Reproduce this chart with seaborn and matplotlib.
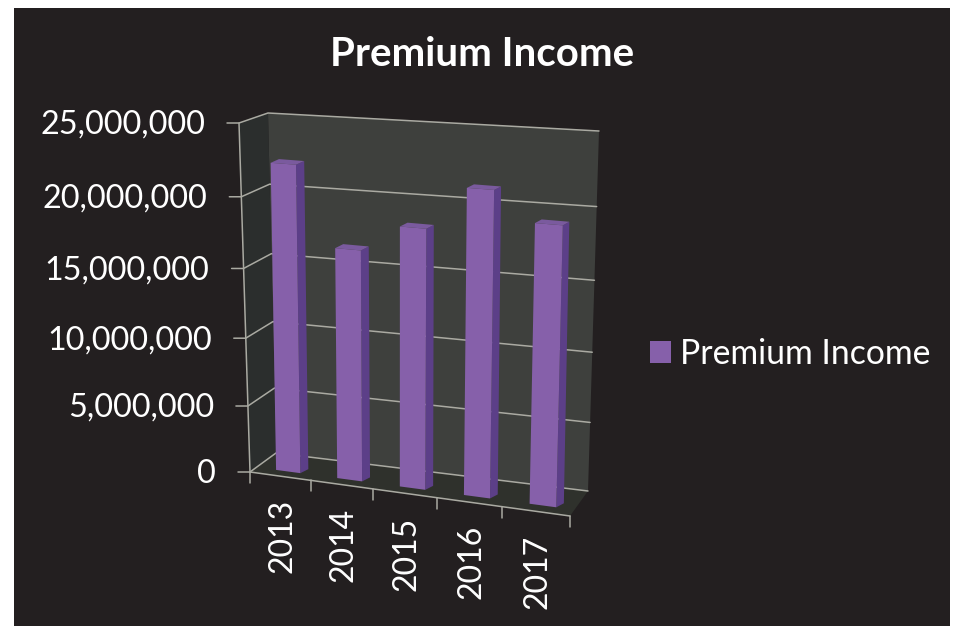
import numpy as np
import matplotlib
matplotlib.use('Agg')
import matplotlib.pyplot as plt
import seaborn as sns
from matplotlib.patches import Polygon, Rectangle
from matplotlib.transforms import Transform

# chart values
years = ['2013', '2014', '2015', '2016', '2017']
premium_income = [22300000, 16700000, 18600000, 21600000, 19600000]
y_ticks = [0, 5000000, 10000000, 15000000, 20000000, 25000000]
series_name = 'Premium Income'

BG = '#231f20'
WALL = '#3e403d'
SIDE_WALL = '#2b2e2d'
FLOOR = '#2f312c'
GRID = '#aaaaa2'
BAR = '#8660aa'
BAR_SIDE = '#5c3f88'
BAR_TOP = '#7a5a9e'
U0, U1 = -0.5, 4.5
V1 = y_ticks[-1]


class Persp(Transform):
    """maps (category, value) on to a plane given by its 4 pixel corners"""
    input_dims = 2
    output_dims = 2
    is_separable = False
    has_inverse = False

    def __init__(self, bl, br, tl, tr):
        super().__init__()
        src = [(U0, 0), (U1, 0), (U0, V1), (U1, V1)]
        a, b = [], []
        for (x, y), (px, py) in zip(src, [bl, br, tl, tr]):
            y = y / V1
            a.append([x, y, 1, 0, 0, 0, -px * x, -px * y])
            a.append([0, 0, 0, x, y, 1, -py * x, -py * y])
            b += [px, py]
        self.h = np.append(np.linalg.solve(np.array(a), np.array(b)), 1).reshape(3, 3)

    def transform_non_affine(self, values):
        values = np.asarray(values, dtype=float)
        pts = np.column_stack([values[:, 0], values[:, 1] / V1, np.ones(len(values))])
        out = pts @ self.h.T
        return out[:, :2] / out[:, 2:]


# pixel corners of the planes in the fake 3d box
back_wall = Persp((276, 453), (588, 491), (268, 113), (599, 131))
front_edge = Persp((250, 472), (570, 516), (239, 123), (583, 144))
bar_front = Persp((258, 467.5), (576.5, 510), (251, 122.5), (586, 145))
bar_back = Persp((266, 463.5), (584, 506), (259.5, 119), (592, 142))

sns.set_theme(style='white')
plt.rcParams['font.family'] = ['Lato', 'DejaVu Sans']

fig = plt.figure(figsize=(9.6, 6.26), dpi=100, facecolor='white')
pix = fig.add_axes([0, 0, 1, 1])
pix.set_xlim(0, 960)
pix.set_ylim(626, 0)
pix.axis('off')
pix.add_patch(Rectangle((14, 8), 936, 618, color=BG, lw=0))


def pt(plane, u, v):
    return plane.transform_non_affine(np.array([[u, v]]))[0]


# walls and floor
pix.add_patch(Polygon([pt(back_wall, U0, 0), pt(back_wall, U1, 0), pt(back_wall, U1, V1), pt(back_wall, U0, V1)],
                      color=WALL, lw=0))
pix.add_patch(Polygon([pt(front_edge, U0, 0), pt(back_wall, U0, 0), pt(back_wall, U0, V1), pt(front_edge, U0, V1)],
                      color=SIDE_WALL, lw=0))
pix.add_patch(Polygon([pt(front_edge, U0, 0), pt(front_edge, U1, 0), pt(back_wall, U1, 0), pt(back_wall, U0, 0)],
                      color=FLOOR, lw=0))

# gridlines and value axis
for t in y_ticks:
    a, b, c = pt(front_edge, U0, t), pt(back_wall, U0, t), pt(back_wall, U1, t)
    pix.plot([a[0] - 12, a[0], b[0], c[0]], [a[1], a[1], b[1], c[1]], color=GRID, lw=1.1)
    pix.text(a[0] - 34, a[1] + 2, f'{t:,}', color='white', ha='right', va='center', fontsize=23.3)
a, b = pt(front_edge, U0, 0), pt(front_edge, U0, V1)
pix.plot([a[0], b[0]], [a[1], b[1]], color=GRID, lw=1.1)

# category axis
a, b = pt(front_edge, U0, 0), pt(front_edge, U1, 0)
pix.plot([a[0], b[0]], [a[1], b[1]], color=GRID, lw=1.1)
for i in range(len(years) + 1):
    p = pt(front_edge, U0 + i, 0)
    pix.plot([p[0], p[0]], [p[1], p[1] + 11], color=GRID, lw=1.1)
for i, year in enumerate(years):
    p = pt(front_edge, i, 0)
    pix.text(p[0] + 2, p[1] + 23, year, color='white', rotation=90, ha='center', va='top', fontsize=23)

# bars, seaborn draws them and the perspective is put on afterwards
ax = fig.add_axes([0, 0, 1, 1], facecolor='none')
sns.barplot(x=years, y=premium_income, width=0.4, color=BAR, saturation=1, ax=ax, label=series_name)
ax.set_xlim(U0, U1)
ax.set_ylim(0, V1)
ax.axis('off')
for patch in ax.patches:
    x0, w, h = patch.get_x(), patch.get_width(), patch.get_height()
    x1 = x0 + w
    side = [pt(bar_front, x1, 0), pt(bar_back, x1, 0), pt(bar_back, x1, h), pt(bar_front, x1, h)]
    top = [pt(bar_front, x0, h), pt(bar_front, x1, h), pt(bar_back, x1, h), pt(bar_back, x0, h)]
    pix.add_patch(Polygon(side, color=BAR_SIDE, lw=0, zorder=5))
    pix.add_patch(Polygon(top, color=BAR_TOP, lw=0, zorder=5))
    patch.set_transform(bar_front + pix.transData)
    patch.set_clip_on(False)
    patch.set_linewidth(0)

pix.text(482, 54, series_name, color='white', ha='center', va='center', fontsize=29, fontweight='bold')
handles, labels = ax.get_legend_handles_labels()
leg = ax.legend(handles[:1], labels[:1], loc='center left', bbox_to_anchor=(0.677, 0.435), frameon=False,
                labelcolor='white', fontsize=24.3, handlelength=0.62, handleheight=0.62, handletextpad=0.27,
                borderpad=0, borderaxespad=0)

fig.savefig('out.png', dpi=100, facecolor='white')
